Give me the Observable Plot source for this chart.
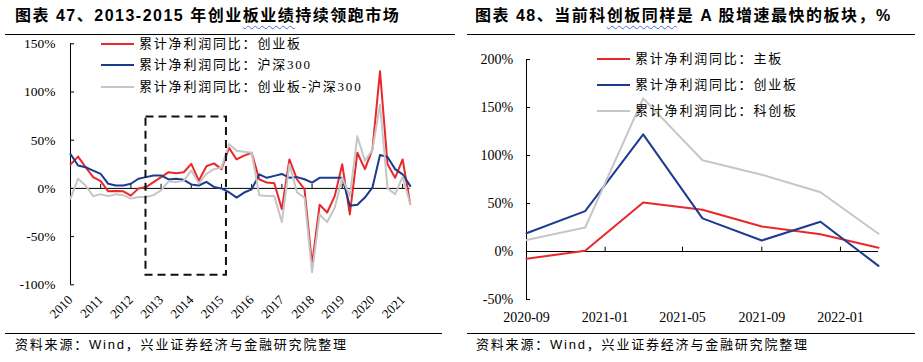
<!DOCTYPE html>
<html><head><meta charset="utf-8">
<script src="https://cdn.jsdelivr.net/npm/d3@7"></script>
<script src="https://cdn.jsdelivr.net/npm/@observablehq/plot@0.6"></script>
<style>
body{margin:0;background:#fff;width:923px;height:362px;overflow:hidden;position:relative;font-family:"Noto Sans CJK SC",sans-serif;color:#000}
svg{position:absolute;top:0}
.title{position:absolute;top:6px;line-height:20px;font-family:"Liberation Sans","Noto Sans CJK SC",sans-serif;font-weight:bold;font-size:16px;letter-spacing:1.5px;white-space:nowrap}
.hr{position:absolute;height:0;border-top:1px solid #000}
.src{position:absolute;top:336px;line-height:18px;font-size:13px;letter-spacing:1.8px;white-space:nowrap;font-family:"Liberation Sans","Noto Sans CJK SC",sans-serif}
.leg{position:absolute;height:18px;line-height:18px;font-size:13px;letter-spacing:1.8px;white-space:nowrap;display:flex;align-items:center;font-family:"Liberation Serif","Noto Sans CJK SC",serif}
.leg i{display:inline-block;width:33px;height:2px;margin-right:5px}
.wavy{text-decoration:underline wavy #4a6ee0;text-decoration-thickness:1px;text-underline-offset:4px}
</style>
</head><body>
<div id="root"></div>
<script>
// ---------- Left chart data (quarterly, 2010Q1 .. 2021Q2) ----------
const years = ["2010","2011","2012","2013","2014","2015","2016","2017","2018","2019","2020","2021"];
const cybGrowth = [24.7,33,22,11.7,7.5,-3,-2.7,-3,-7.5,0,1.4,6.5,11.7,16.8,15.8,16.8,25.4,8,23,26,20,42,30,34,37,9.5,6,5.3,-21.5,30,9.5,-1,-79,-17,-25,-8,25,-27,37,20,40.5,121.5,25,11,30,-16];
const hs300Growth = [35.7,23.7,22,18.5,15,4.8,3,3,4.8,10,11.7,13.4,13.4,9.3,10,8.9,4.1,3,6.7,1.5,0,-4,-9.5,-4.3,-1,14.6,11,13,15,11,11.7,9.5,6,11,11,11,11,-18,-17,-9.5,1,34.6,32.6,20,14.6,2.6];
const diffGrowth = [-10.6,10,3,-8,-6,-8,-6,-7,-10.6,-9,-9,-7,-2,7.5,6.5,8,18.5,5,15,20,21.5,46,39,38,37,-7,-8,-8,-35,25,-4,-9.5,-87,-27,-35,-20,11,-8,54,28.5,40,87,0,-6,12,-16];
const leftSeries = ["累计净利润同比：创业板","累计净利润同比：沪深300","累计净利润同比：创业板-沪深300"];
const leftYTicks = [-100,-50,0,50,100,150];
// highlighted period 2013-2015 (quarter index / % range)
const highlight = [{x1: 10, x2: 20.66, y1: -90, y2: 74}];

// ---------- Right chart data ----------
const rightDates = ["2020-09","2020-12","2021-03","2021-06","2021-09","2021-12","2022-03"];
const mainBoard = [-7.5,0.7,51,43.5,26,18,4];
const chinext = [19,42,122,34.5,11.5,31,-15];
const star = [12,25,159.5,95,80,61.7,18.5];
const rightSeries = ["累计净利润同比：主板","累计净利润同比：创业板","累计净利润同比：科创板"];
const rightXTicks = ["2020-09","2021-01","2021-05","2021-09","2022-01"];
const rightYTicks = [-50,0,50,100,150,200];

const RED = "#e8282b", BLUE = "#1c3b8e", GRAY = "#c6c6c6";

// ---------- Left chart ----------
const leftRows = cybGrowth.map((v, i) => ({i, cyb: v, hs: hs300Growth[i], diff: diffGrowth[i]}));
const yearIdx = years.map((y, k) => k * 4);
const left = Plot.plot({
  width: 460, height: 362,
  marginLeft: 70, marginRight: 50.3, marginTop: 43.3, marginBottom: 77.7,
  style: {background: "transparent", fontFamily: "Liberation Serif", fontSize: "13.5px", color: "#000", overflow: "visible"},
  x: {domain: [0, 45]},
  y: {domain: [-100, 150]},
  marks: [
    Plot.axisY(leftYTicks, {tickSize: -4, tickPadding: 19, tickFormat: d => d + "%", label: null, fontSize: 13.5}),
    Plot.axisX(yearIdx, {tickSize: 0, tickPadding: 13, tickRotate: -45, tickFormat: i => years[i / 4], label: null, fontSize: 13}),
    Plot.ruleX([0], {stroke: "#000"}),
    Plot.ruleY([0], {stroke: "#000"}),
    Plot.ruleX(yearIdx.slice(1), {y1: 0, y2: 4.2, stroke: "#000"}),
    Plot.line(leftRows, {x: "i", y: "cyb", stroke: RED, strokeWidth: 2}),
    Plot.line(leftRows, {x: "i", y: "hs", stroke: BLUE, strokeWidth: 2}),
    Plot.line(leftRows, {x: "i", y: "diff", stroke: GRAY, strokeWidth: 2}),
    Plot.rect(highlight, {x1: "x1", x2: "x2", y1: "y1", y2: "y2", fill: "none", stroke: "#111", strokeWidth: 2, strokeDasharray: "8,5"})
  ]
});
left.style.left = "0px";

// ---------- Right chart ----------
const parse = s => new Date(s + "-01T00:00:00Z");
const rightRows = rightDates.map((d, k) => ({date: parse(d), main: mainBoard[k], cy: chinext[k], star: star[k]}));
const rTicks = rightXTicks.map(parse);
const right = Plot.plot({
  width: 463, height: 362,
  marginLeft: 66, marginRight: 45, marginTop: 59, marginBottom: 63,
  style: {background: "transparent", fontFamily: "Liberation Serif", fontSize: "14px", color: "#000", overflow: "visible"},
  x: {type: "utc", domain: [parse(rightDates[0]), parse(rightDates[rightDates.length - 1])]},
  y: {domain: [-50, 200]},
  marks: [
    Plot.axisY(rightYTicks, {tickSize: -4, tickPadding: 17.3, tickFormat: d => d + "%", label: null}),
    Plot.axisX(rTicks, {tickSize: 0, tickPadding: 13, tickFormat: d3.utcFormat("%Y-%m"), label: null}),
    Plot.ruleX([parse(rightDates[0])], {stroke: "#000"}),
    Plot.ruleY([0], {stroke: "#000"}),
    Plot.ruleX(rTicks.slice(1), {y1: 0, y2: 4.5, stroke: "#000"}),
    Plot.line(rightRows, {x: "date", y: "main", stroke: RED, strokeWidth: 2}),
    Plot.line(rightRows, {x: "date", y: "cy", stroke: BLUE, strokeWidth: 2}),
    Plot.line(rightRows, {x: "date", y: "star", stroke: GRAY, strokeWidth: 2})
  ]
});
right.style.left = "460px";

document.body.appendChild(left);
document.body.appendChild(right);

// ---------- Text / frame ----------
function el(cls, html, css) {
  const d = document.createElement("div");
  d.className = cls; d.innerHTML = html;
  Object.assign(d.style, css);
  document.body.appendChild(d);
  return d;
}
el("title", '图表 47、2013-2015 年创业<span class="wavy">板业绩</span>持续领跑市场', {left: "15px"});
el("title", '图表 48、当前科<span class="wavy">创板同样</span>是 A 股增速最快的板块，%', {left: "475px"});
el("hr", "", {left: "5px", width: "450px", top: "34px"});
el("hr", "", {left: "467px", width: "448px", top: "34px"});
el("hr", "", {left: "5px", width: "437px", top: "333px"});
el("hr", "", {left: "467px", width: "448px", top: "333px"});
el("src", "资料来源：Wind，兴业证券经济与金融研究院整理", {left: "15px"});
el("src", "资料来源：Wind，兴业证券经济与金融研究院整理", {left: "476px"});

const leftColors = [RED, BLUE, GRAY];
const leftY = [44.3, 65, 86.7];
leftSeries.forEach((s, k) => el("leg", `<i style="background:${leftColors[k]}"></i>${s}`, {left: "101px", top: (leftY[k] - 9) + "px"}));
const rightY = [59, 85, 111];
rightSeries.forEach((s, k) => el("leg", `<i style="background:${leftColors[k]}"></i>${s}`, {left: "597px", top: (rightY[k] - 9) + "px"}));
</script>
</body></html>
